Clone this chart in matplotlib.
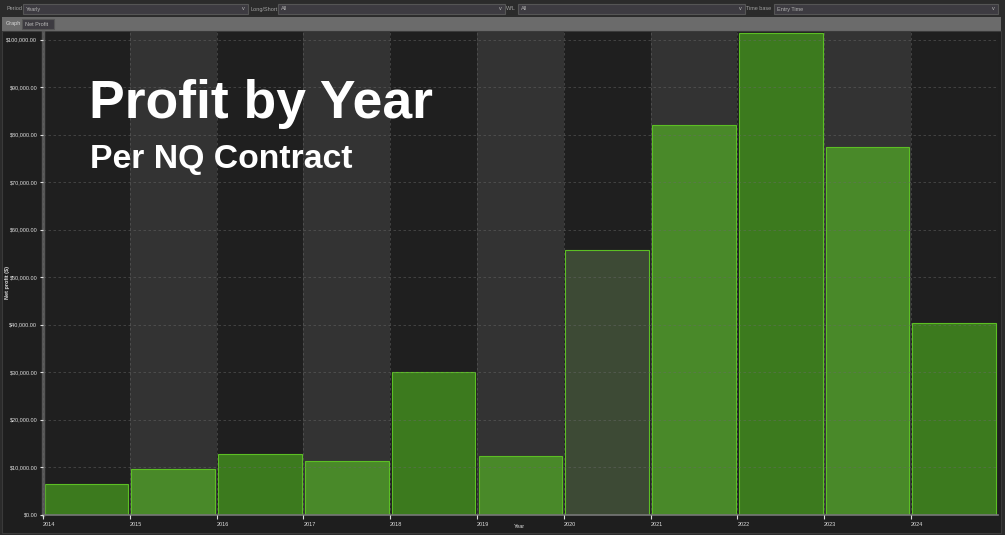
import numpy as np
import matplotlib
matplotlib.use("Agg")
import matplotlib.pyplot as plt
from matplotlib.patches import Rectangle
from matplotlib.ticker import FuncFormatter, MultipleLocator

# donnees
years = [2014, 2015, 2016, 2017, 2018, 2019, 2020, 2021, 2022, 2023, 2024]
net_profit = [6460, 9620, 12780, 11300, 30050, 12360, 55730, 82050, 101400, 77400, 40360]

title = "Profit by Year"
subtitle = "Per NQ Contract"

W, H = 1005, 535
fig = plt.figure(figsize=(W / 100, H / 100), dpi=100)
fig.patch.set_facecolor("#2b2b2b")
plt.rcParams['font.family'] = ['Liberation Sans', 'DejaVu Sans']

def px_rect(x0, y0, x1, y1, color, ec="none"):
    # rectangle en pixels (origine en haut a gauche)
    fig.patches.append(Rectangle((x0 / W, 1 - y1 / H), (x1 - x0) / W, (y1 - y0) / H,
                                 transform=fig.transFigure, facecolor=color,
                                 edgecolor=ec, linewidth=0.8, zorder=-1))

def px_text(x, y, s, **kw):
    fig.text(x / W, 1 - y / H, s, **kw)

# barre d'outils
px_rect(0, 0, W, 17, "#2b2b2b")
combos = [("Period", 6, 23, 248, "Yearly"), ("Long/Short", 250, 278, 505, "All"),
          ("W/L", 506, 518, 745, "All"), ("Time base", 746, 774, 998, "Entry Time")]
for lab, xl, x0, x1, val in combos:
    px_rect(x0, 4, x1, 14, "#3d3b41", ec="#555555")
    px_text(xl, 9, lab, color="#a0a0a0", fontsize=4, va="center")
    px_text(x0 + 3, 9, val, color="#b0b0b0", fontsize=4, va="center")
    px_text(x1 - 3, 9, "v", color="#b8b8b8", fontsize=4, va="center", ha="right")
px_rect(2, 17, 1001, 31, "#6b6b6b")
px_text(6, 24, "Graph", color="#d8d8d8", fontsize=4, va="center")
px_rect(22, 19, 54, 29, "#3d3b41", ec="#555555")
px_text(25, 24, "Net Profit", color="#b8b8b8", fontsize=4, va="center")
px_rect(2, 31, 1001, 533, "#1e1e1e", ec="#3a3a3a")

ax = fig.add_axes([43 / W, 1 - 514.7 / H, (997.7 - 43) / W, (514.7 - 32) / H])
ax.set_facecolor("#1f1f1f")
ax.set_xlim(2014, 2025)
ax.set_ylim(0, 101600)

# bandes alternees
for yr in years:
    if yr % 2 == 1:
        ax.axvspan(yr, yr + 1, color="#333333", zorder=0, lw=0)

bar_colors = ["#3c7a1e" if yr % 2 == 0 else "#498929" for yr in years]
bar_colors[years.index(2020)] = "#3d4a35"
ax.bar(np.array(years) + 0.018, net_profit, width=0.964, align="edge", color=bar_colors,
       edgecolor="#5cbf24", linewidth=0.8, zorder=2)

ax.yaxis.set_major_locator(MultipleLocator(10000))
ax.yaxis.set_major_formatter(FuncFormatter(lambda v, p: "${:,.2f}".format(v)))
ax.set_xticks(years)
ax.set_xticklabels([str(y) for y in years], ha="left")
ax.grid(True, color="#6a6a6a", alpha=0.55, linestyle=(0, (3, 3)), linewidth=0.6)
ax.set_axisbelow(False)
for gl in ax.get_xgridlines() + ax.get_ygridlines():
    gl.set_zorder(2.5)
ax.tick_params(colors="#dddddd", labelsize=4, length=2, pad=2)
ax.tick_params(axis="x", length=3)
for s in ["top", "right"]:
    ax.spines[s].set_visible(False)
ax.spines["left"].set_color("#555555")
ax.spines["left"].set_linewidth(2.5)
ax.spines["bottom"].set_color("#777777")
ax.spines["bottom"].set_linewidth(1.2)

px_text(519, 527, "Year", color="#dddddd", fontsize=4, ha="center", va="center")
px_text(8, 282, "Net profit ($)", color="#dddddd", fontsize=4, ha="center", va="center",
        rotation=90, fontweight="bold")

px_text(89, 118, title, color="white", fontsize=38.5, fontweight="bold", va="baseline")
px_text(90, 168, subtitle, color="white", fontsize=24.3, fontweight="bold", va="baseline")

fig.savefig("out.png", dpi=100, facecolor=fig.get_facecolor())
